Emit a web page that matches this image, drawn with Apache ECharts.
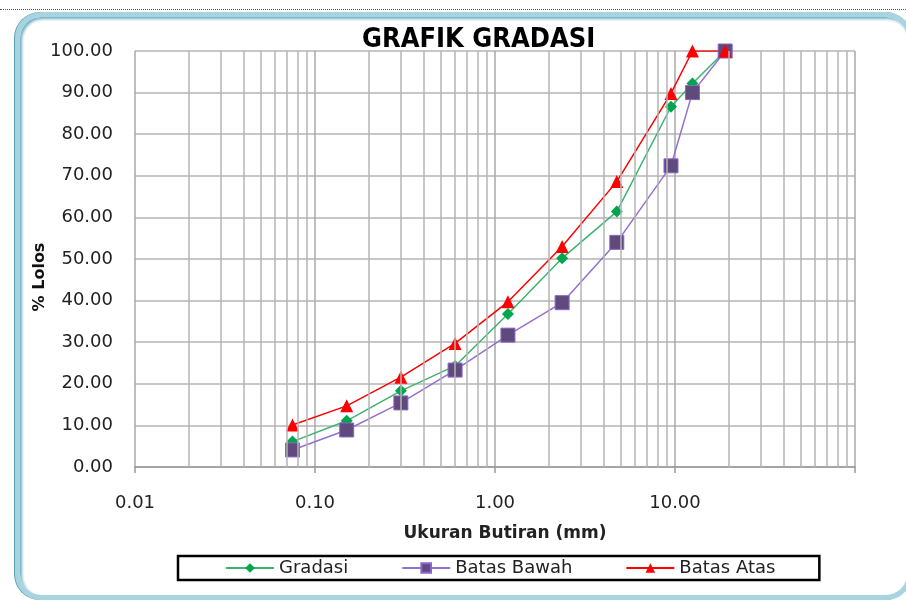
<!DOCTYPE html>
<html>
<head>
<meta charset="utf-8">
<script src="https://cdn.jsdelivr.net/npm/echarts@6/dist/echarts.min.js"></script>
<style>
  html, body { margin: 0; padding: 0; background: #fff; }
  #wrap { position: relative; width: 906px; height: 602px; overflow: hidden; }
  #dots { position: absolute; left: 0; top: 9px; width: 906px; border-top: 1px dotted #555; }
  #frame {
    position: absolute; left: 15px; top: 12px; width: 897px; height: 588px;
    box-sizing: border-box; border-radius: 26px;
    border: 5px solid #a8d4e0;
    box-shadow: inset 2px 2px 3px #6fb0c4, -1px 0 0 #5a9fb5;
    background: #fff;
  }
  #chart { position: absolute; left: 0; top: 0; width: 906px; height: 602px; }
</style>
</head>
<body>
<div id="wrap">
  <div id="dots"></div>
  <div id="frame"></div>
  <div id="chart"></div>
</div>
<script>
// ukuran saringan (mm)
const sieves = [0.075, 0.15, 0.3, 0.6, 1.18, 2.36, 4.75, 9.5, 12.5, 19]
const gradasi = [6.1, 11.1, 18.3, 24.3, 36.8, 50.2, 61.4, 86.6, 92.2, 100]
const batasBawah = [4.1, 8.9, 15.4, 23.3, 31.7, 39.5, 54.0, 72.4, 90.0, 100]
const batasAtas = [10.1, 14.7, 21.6, 29.7, 39.7, 53.0, 68.6, 89.8, 100, 100]

// garis bantu log (2..9 tiap dekade)
const minorGrid = []
for (let e = -2; e <= 1; e++) {
  for (let m = 2; m <= 9; m++) {
    minorGrid.push(+(m * Math.pow(10, e)).toPrecision(3))
  }
}

const pair = (ys) => sieves.map((x, i) => [x, ys[i]])
const labelFont = 'DejaVu Sans'
const gridColor = '#b5b5b5'

const chart = echarts.init(document.getElementById('chart'))
chart.setOption({
  animation: false,
  title: {
    text: 'GRAFIK GRADASI',
    left: 357,
    top: 21,
    textStyle: {
      fontFamily: "'Liberation Sans Narrow', 'DejaVu Sans Condensed', 'Liberation Sans'",
      fontWeight: 'bold',
      fontSize: 27,
      color: '#000'
    }
  },
  grid: {
    left: 135,
    right: 51,
    top: 51,
    bottom: 135
  },
  legend: {
    data: ['Gradasi', 'Batas Bawah', 'Batas Atas'],
    left: 178,
    top: 556,
    orient: 'horizontal',
    itemWidth: 48,
    itemHeight: 12,
    itemGap: 53,
    padding: [3, 44, 3, 47],
    borderColor: '#000',
    borderWidth: 2.5,
    textStyle: {
      fontFamily: labelFont,
      fontSize: 18,
      color: '#222'
    }
  },
  xAxis: {
    type: 'log',
    logBase: 10,
    min: 0.01,
    max: 100,
    name: 'Ukuran Butiran (mm)',
    nameLocation: 'middle',
    nameMoveOverlap: false,
    nameGap: 58,
    nameTextStyle: {
      fontFamily: labelFont,
      fontWeight: 'bold',
      fontSize: 17,
      color: '#222',
      padding: [0, 0, 0, 20]
    },
    axisLine: { show: true, onZero: false, lineStyle: { color: '#999', width: 1.5 } },
    axisTick: { show: true, length: 6, lineStyle: { color: '#999', width: 1.5 } },
    axisLabel: {
      margin: 27,
      fontFamily: labelFont,
      fontSize: 18,
      color: '#222',
      formatter: v => (v < 99 ? v.toFixed(2) : '')
    },
    splitLine: { show: true, lineStyle: { color: '#a8a8a8', width: 1.5 } }
  },
  yAxis: {
    type: 'value',
    min: 0,
    max: 100,
    interval: 10,
    name: '% Lolos',
    nameLocation: 'middle',
    nameMoveOverlap: false,
    nameGap: 87,
    nameTextStyle: {
      fontFamily: labelFont,
      fontWeight: 'bold',
      fontSize: 16,
      color: '#111',
      padding: [0, 36, 0, 0]
    },
    axisLine: { show: false },
    axisTick: { show: false },
    axisLabel: {
      margin: 22,
      fontFamily: labelFont,
      fontSize: 18,
      color: '#222',
      formatter: v => v.toFixed(2)
    },
    splitLine: { show: true, lineStyle: { color: gridColor, width: 1.5 } }
  },
  series: [
    {
      name: '_grid',
      type: 'line',
      data: [],
      z: 1,
      silent: true,
      markLine: {
        silent: true,
        symbol: 'none',
        label: { show: false },
        lineStyle: { type: 'solid', color: gridColor, width: 1.5 },
        data: minorGrid.map(v => ({ xAxis: v }))
      }
    },
    {
      name: 'Gradasi',
      type: 'line',
      z: 3,
      data: pair(gradasi),
      symbol: 'diamond',
      symbolSize: 12,
      lineStyle: { color: '#3cb46e', width: 1.5 },
      itemStyle: { color: '#00a550' }
    },
    {
      name: 'Batas Bawah',
      type: 'line',
      z: 3,
      data: pair(batasBawah),
      symbol: 'rect',
      symbolSize: 14,
      lineStyle: { color: '#9370d0', width: 1.5 },
      itemStyle: { color: '#604a7b', borderColor: '#8a64c8', borderWidth: 1 }
    },
    {
      name: 'Batas Atas',
      type: 'line',
      z: 3,
      data: pair(batasAtas),
      symbol: 'triangle',
      symbolSize: 13,
      lineStyle: { color: '#ff0000', width: 1.5 },
      itemStyle: { color: '#ff0000' }
    }
  ]
})
</script>
</body>
</html>
